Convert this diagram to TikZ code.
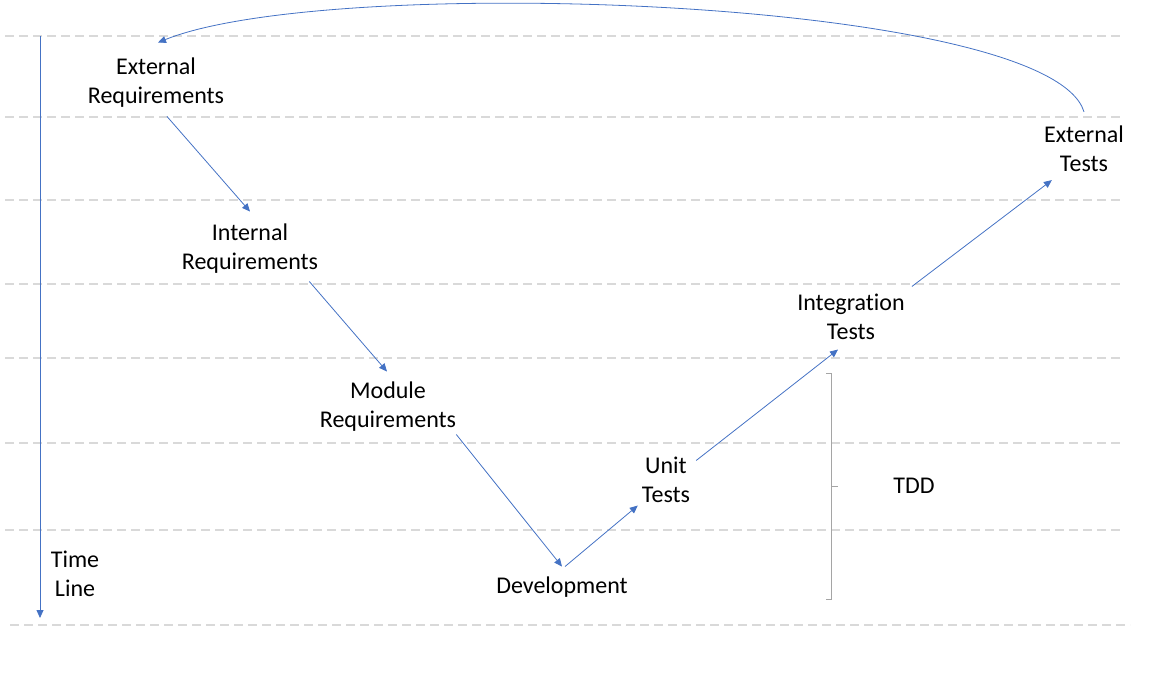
\documentclass[tikz,border=0pt]{standalone}
\usepackage{fontspec}
\setmainfont{Carlito}[Ligatures=NoCommon]
\usepackage{tikz}
\usetikzlibrary{arrows.meta,positioning}
\definecolor{flowblue}{HTML}{4472C4}
\definecolor{gridgrey}{HTML}{D9D9D9}
\definecolor{bracegrey}{HTML}{A5A5A5}

\begin{document}
\begin{tikzpicture}[x=1pt,y=-1pt,
  every node/.style={align=center,inner sep=0pt,
    font=\fontsize{24pt}{29pt}\selectfont},
  flow/.style={-{Triangle[length=8pt,width=7pt]},flowblue,line width=0.8pt},
  gridline/.style={gridgrey,line width=1.5pt,dash pattern=on 9pt off 5pt}]
\useasboundingbox (0,0) rectangle (1153,672);
\foreach \y in {36,117,200,284,358,443,530}
  \draw[gridline] (5,\y) -- (1122,\y);
\draw[gridline] (10,625) -- (1130,625);
\node (extreq) at (156,82.5) {External\\Requirements};
\node (intreq) at (250,248.5) {Internal\\Requirements};
\node (modreq) at (388,406.5) {Module\\Requirements};
\node (dev) at (562,587) {Development};
\node (unit) at (666,479.5) {Unit\\Tests};
\node (integ) at (851,316.5) {Integration\\Tests};
\node (exttests) at (1084,149) {External\\Tests};
\node (tdd) at (914,486) {TDD};
\node (timeline) at (75,574) {Time\\Line};
\coordinate (tltop) at (40,36);
\coordinate (tlbot) at (40,618);
\draw[flow] (tltop) -- (tlbot);
\draw[flow] ([xshift=11pt,yshift=-9pt]extreq.south) -- ([yshift=12pt]intreq.north);
\draw[flow] ([xshift=-9pt,yshift=-8pt]intreq.south east) -- ([xshift=-1pt,yshift=10pt]modreq.north);
\draw[flow] ([yshift=-3pt]modreq.south east) -- ([yshift=10pt]dev.north);
\draw[flow] ([xshift=3pt,yshift=10pt]dev.north) -- ([xshift=-4pt,yshift=-3pt]unit.south west);
\draw[flow] ([xshift=6pt,yshift=-4pt]unit.north east) -- ([xshift=-13pt,yshift=-10pt]integ.south);
\draw[flow] ([xshift=7pt,yshift=7pt]integ.north east) -- ([xshift=8pt,yshift=-8pt]exttests.south west);
\draw[flow] ([yshift=14pt]exttests.north) .. controls (1050,-2) and (330,-27) .. ([xshift=2pt,yshift=15pt]extreq.north);
% TDD bracket
\draw[bracegrey,line width=0.8pt] (826,373) -- (831,373) -- (831,599) -- (826,599);
\draw[bracegrey,line width=0.8pt] (831,486) -- (838,486);
\end{tikzpicture}
\end{document}
